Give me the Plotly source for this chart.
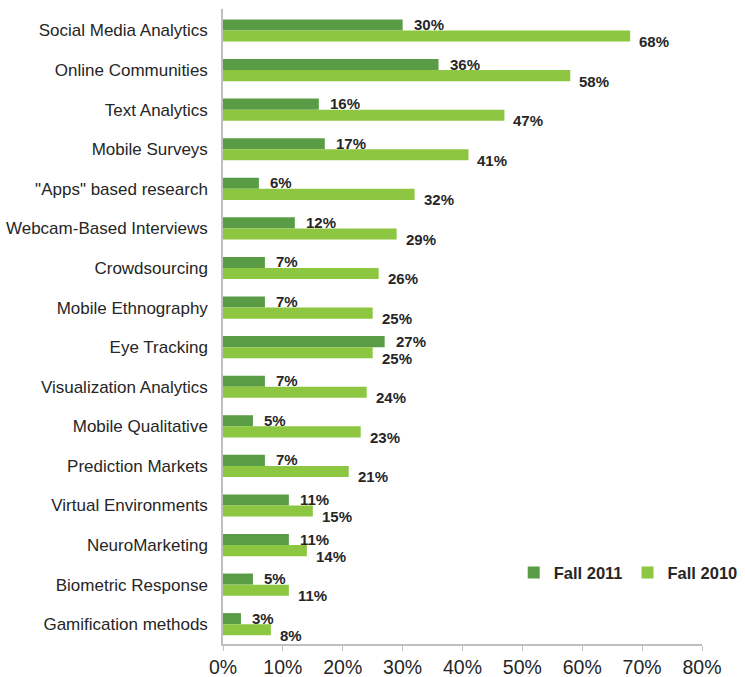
import plotly.graph_objects as go

categories = [
    "Social Media Analytics", "Online Communities", "Text Analytics", "Mobile Surveys",
    "\"Apps\" based research", "Webcam-Based Interviews", "Crowdsourcing",
    "Mobile Ethnography", "Eye Tracking", "Visualization Analytics",
    "Mobile Qualitative", "Prediction Markets", "Virtual Environments",
    "NeuroMarketing", "Biometric Response", "Gamification methods",
]
fall_2011 = [30, 36, 16, 17, 6, 12, 7, 7, 27, 7, 5, 7, 11, 11, 5, 3]
fall_2010 = [68, 58, 47, 41, 32, 29, 26, 25, 25, 24, 23, 21, 15, 14, 11, 8]
x_ticks = [0, 10, 20, 30, 40, 50, 60, 70, 80]
x_tick_labels = [f"{v}%" for v in x_ticks]

DARK = "#5A9C45"
LIGHT = "#8DC641"
TEXT = "#262626"
FONT = "Liberation Sans, Arial, sans-serif"

fig = go.Figure()
fig.add_trace(go.Bar(name="Fall 2011", y=categories, x=fall_2011, orientation="h",
                     marker=dict(color=DARK, line=dict(width=0))))
fig.add_trace(go.Bar(name="Fall 2010", y=categories, x=fall_2010, orientation="h",
                     marker=dict(color=LIGHT, line=dict(width=0))))

annotations = []
for c, v in zip(categories, fall_2011):
    annotations.append(dict(x=v, y=c, xref="x", yref="y", text=f"{v}%", showarrow=False,
                            xanchor="left", yanchor="middle", xshift=9, yshift=6,
                            font=dict(family=FONT, size=15, color=TEXT, weight="bold")))
for c, v in zip(categories, fall_2010):
    annotations.append(dict(x=v, y=c, xref="x", yref="y", text=f"{v}%", showarrow=False,
                            xanchor="left", yanchor="middle", xshift=7, yshift=-11,
                            font=dict(family=FONT, size=15, color=TEXT, weight="bold")))

fig.update_layout(
    width=745, height=677,
    margin=dict(l=223, r=43, t=9, b=33, autoexpand=False),
    paper_bgcolor="white", plot_bgcolor="white",
    barmode="group", bargap=0.44, bargroupgap=0,
    font=dict(family=FONT, color=TEXT),
    showlegend=True,
    legend=dict(orientation="h", x=1.085, xanchor="right", y=0.112, yanchor="middle",
                font=dict(family=FONT, size=16.5, color=TEXT, weight="bold"),
                bgcolor="rgba(0,0,0,0)", itemwidth=30, tracegroupgap=0,
                borderwidth=0),
    annotations=annotations,
    xaxis=dict(range=[0, 80], tickvals=x_ticks, ticktext=x_tick_labels,
               showgrid=False, zeroline=False, showline=True, linecolor="#BFBFBF",
               linewidth=1.5, ticks="outside", ticklen=5, tickcolor="#BFBFBF",
               tickfont=dict(family=FONT, size=19.5, color=TEXT), fixedrange=True,
               automargin=False),
    yaxis=dict(autorange="reversed", showgrid=False, zeroline=False, showline=True,
               linecolor="#BFBFBF", linewidth=1.5, ticks="", ticklabelstandoff=10,
               tickfont=dict(family=FONT, size=17, color=TEXT), automargin=False),
)

fig.write_html("out.html", config={"displayModeBar": False},
               post_script="document.body.style.margin='0';document.body.style.overflow='hidden';")
